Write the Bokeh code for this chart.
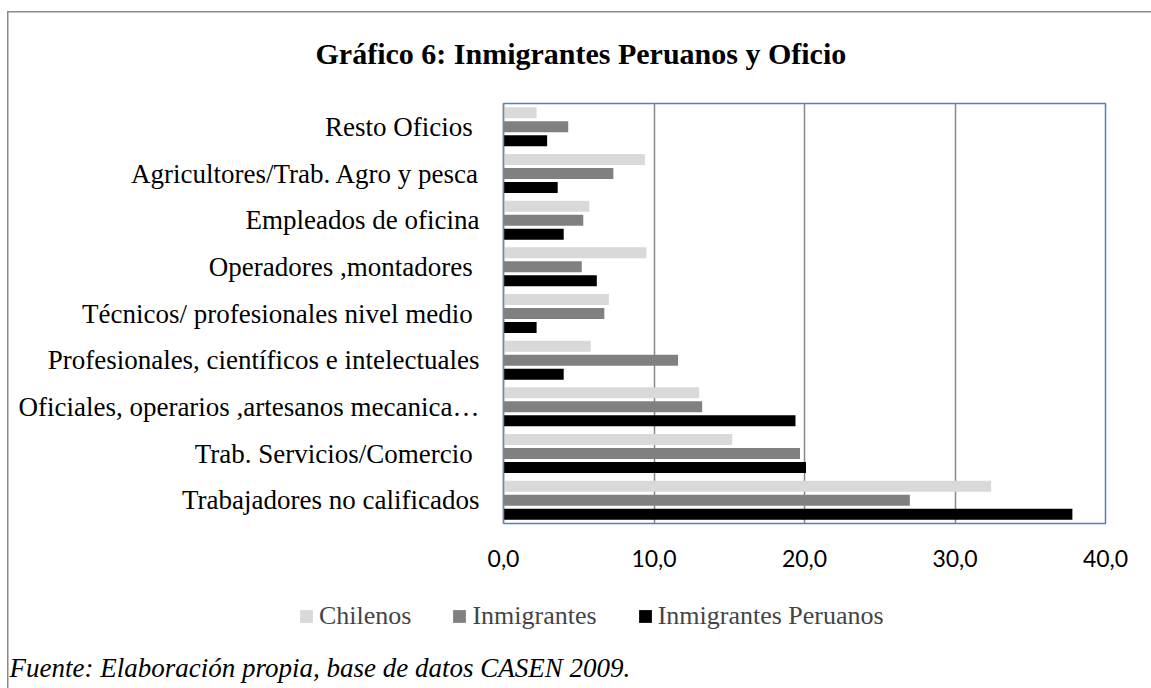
from bokeh.plotting import figure
from bokeh.models import (Range1d, FixedTicker, Legend, LegendItem, Title, Label,
                          ColumnDataSource)
from bokeh.transform import dodge
from bokeh.embed import file_html
from bokeh.resources import INLINE

# ---- data (bottom to top, as Bokeh stacks categorical factors upward) ----
categories = [
    "Trabajadores no calificados",
    "Trab. Servicios/Comercio ",
    "Oficiales, operarios ,artesanos mecanica…",
    "Profesionales, científicos e intelectuales",
    "Técnicos/ profesionales  nivel medio",
    "Operadores ,montadores ",
    "Empleados de oficina",
    "Agricultores/Trab. Agro y pesca",
    "Resto Oficios ",
]
chilenos = [32.4, 15.2, 13.0, 5.8, 7.0, 9.5, 5.7, 9.4, 2.2]
inmigrantes = [27.0, 19.7, 13.2, 11.6, 6.7, 5.2, 5.3, 7.3, 4.3]
peruanos = [37.8, 20.1, 19.4, 4.0, 2.2, 6.2, 4.0, 3.6, 2.9]
series_names = ["Chilenos", "Inmigrantes", "Inmigrantes Peruanos"]
tick_values = [0, 10, 20, 30, 40]
tick_labels = ["0,0", "10,0", "20,0", "30,0", "40,0"]
title_text = "Gráfico 6: Inmigrantes Peruanos  y Oficio"
source_text = "Fuente: Elaboración propia, base de datos CASEN 2009."

colors = ["#D9D9D9", "#808080", "#000000"]
serif = "Liberation Serif"
series_fields = ["chil", "inm", "per"]
offsets = [0.3, 0.0, -0.3]
bar_h = 0.236

src = ColumnDataSource(dict(cat=categories, chil=chilenos, inm=inmigrantes, per=peruanos))

line_col = "#8a8a8a"
top_style = (f"linear-gradient({line_col},{line_col}) 7px 11px/1.5px 100% no-repeat, "
             f"linear-gradient({line_col},{line_col}) 7px 11px/100% 1.5px no-repeat, white")
side_style = f"linear-gradient({line_col},{line_col}) 7px 0/1.5px 100% no-repeat, white"

# ---------------- main chart ----------------
p = figure(width=1151, height=577, y_range=categories, x_range=Range1d(0, 40),
           output_backend="svg", toolbar_location=None,
           min_border_left=503, min_border_right=46, min_border_top=103,
           min_border_bottom=54, styles={"background": top_style})
p.background_fill_color = "white"
p.border_fill_alpha = 0
p.outline_line_color = "#4F81BD"
p.outline_line_width = 1.5

for f, c, o in zip(series_fields, colors, offsets):
    p.hbar(y=dodge("cat", o, range=p.y_range), left=0, right=f, height=bar_h,
           source=src, fill_color=c, line_color=None)

p.ygrid.grid_line_color = None
p.xgrid.ticker = FixedTicker(ticks=tick_values[1:-1])
p.xgrid.grid_line_color = "#878787"
p.xgrid.grid_line_width = 1.5

p.xaxis.ticker = FixedTicker(ticks=tick_values)
p.xaxis.major_label_overrides = {v: t for v, t in zip(tick_values, tick_labels)}
p.xaxis.axis_line_color = None
p.xaxis.major_tick_line_color = None
p.xaxis.minor_tick_line_color = None
p.xaxis.major_tick_out = 0
p.xaxis.major_tick_in = 0
p.xaxis.minor_tick_out = 0
p.xaxis.major_label_text_font = "Lato"
p.xaxis.major_label_text_font_size = "23px"
p.xaxis.major_label_text_color = "black"
p.xaxis.major_label_standoff = 26

p.yaxis.axis_line_color = "#868686"
p.yaxis.axis_line_width = 1.5
p.yaxis.major_tick_line_color = None
p.yaxis.minor_tick_line_color = None
p.yaxis.major_tick_out = 0
p.yaxis.major_tick_in = 0
p.yaxis.minor_tick_out = 0
p.yaxis.major_label_text_font = serif
p.yaxis.major_label_text_font_size = "27px"
p.yaxis.major_label_text_color = "black"
p.yaxis.major_label_standoff = 24

p.add_layout(Title(text=title_text, align="left", offset=-188, standoff=68,
                   vertical_align="bottom", text_font=serif, text_font_size="30px",
                   text_font_style="bold", text_color="black"), "above")

# ---------------- legend + source strip (separate root, no frame alignment) ----------------
q = figure(width=1151, height=111, y_range=categories, x_range=Range1d(-2, -1),
           output_backend="svg", toolbar_location=None,
           x_axis_type=None, y_axis_type=None,
           min_border_left=0, min_border_right=0, min_border_top=0, min_border_bottom=0,
           styles={"background": side_style})
q.background_fill_alpha = 0
q.border_fill_alpha = 0
q.outline_line_color = None
q.xgrid.visible = False
q.ygrid.visible = False

legend_renderers = []
for f, c, o in zip(series_fields, colors, offsets):
    legend_renderers.append(
        q.hbar(y=dodge("cat", o, range=q.y_range), left=0, right=f, height=bar_h,
               source=src, fill_color=c, line_color=None))

legend = Legend(items=[LegendItem(label=n, renderers=[r])
                       for n, r in zip(series_names, legend_renderers)],
                orientation="horizontal", location=(298, 57),
                glyph_width=16, glyph_height=16, label_standoff=5, spacing=40,
                padding=0, margin=0, border_line_color=None, background_fill_alpha=0,
                label_text_font=serif, label_text_font_size="26px", label_height=26)
q.add_layout(legend, "center")

q.add_layout(Label(x=9, y=21, x_units="screen", y_units="screen", text=source_text,
                   text_font=serif, text_font_size="27px", text_font_style="italic",
                   text_align="left", text_baseline="alphabetic", text_color="black"))

open("out.html", "w").write(file_html([p, q], INLINE))
